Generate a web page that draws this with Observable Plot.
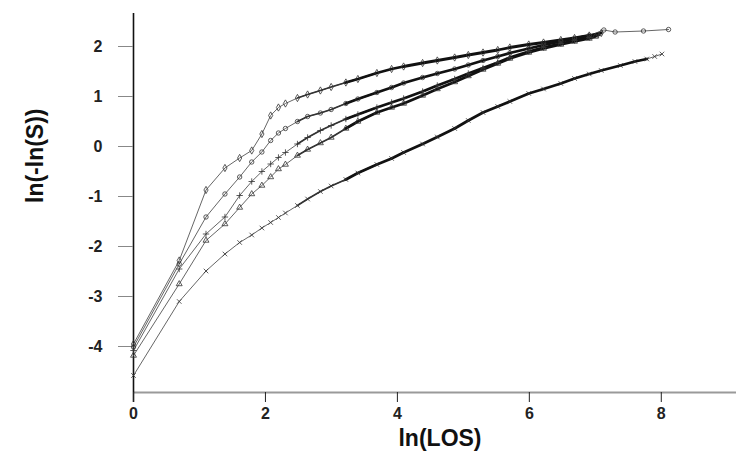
<!DOCTYPE html>
<html><head><meta charset="utf-8">
<script src="https://cdn.jsdelivr.net/npm/d3@7"></script>
<script src="https://cdn.jsdelivr.net/npm/@observablehq/plot@0.6"></script>
<style>body{margin:0;background:#fff} #chart{width:736px;height:464px}</style>
</head><body><div id="chart"></div>
<script>
// ln(LOS) values shared by all five curves
const lnLOS = [0, 0.693, 1.099, 1.386, 1.609, 1.792, 1.946, 2.079, 2.197, 2.303, 2.485, 2.639, 2.833, 2.996, 3.219, 3.401, 3.689, 3.912, 4.094, 4.382, 4.605, 4.868, 5.075, 5.298, 5.521, 5.704, 5.991, 6.215, 6.477, 6.685, 6.908];

const seriesA = [-3.95,-2.28,-0.87,-0.43,-0.23,-0.08,0.25,0.62,0.78,0.86,0.97,1.04,1.12,1.19,1.28,1.35,1.47,1.55,1.60,1.67,1.72,1.78,1.83,1.88,1.93,1.98,2.04,2.08,2.13,2.17,2.22];
const tailAx = [7.09], tailAy = [2.27];

const seriesB = [-4.01,-2.35,-1.41,-0.95,-0.61,-0.31,-0.11,0.12,0.27,0.36,0.50,0.60,0.67,0.74,0.86,0.95,1.08,1.18,1.27,1.38,1.46,1.55,1.63,1.72,1.80,1.87,1.96,2.03,2.10,2.16,2.22];
const tailBx = [7.13,7.30,7.73,8.11], tailBy = [2.33,2.29,2.31,2.34];

const seriesC = [-4.08,-2.45,-1.75,-1.41,-0.98,-0.70,-0.50,-0.35,-0.22,-0.12,0.05,0.18,0.32,0.42,0.55,0.64,0.78,0.88,0.96,1.10,1.22,1.35,1.46,1.57,1.68,1.78,1.90,1.98,2.06,2.12,2.18];
const tailCx = [7.05], tailCy = [2.23];

const seriesD = [-4.18,-2.75,-1.88,-1.55,-1.22,-0.95,-0.78,-0.61,-0.45,-0.36,-0.18,-0.06,0.07,0.18,0.36,0.50,0.68,0.78,0.86,1.02,1.15,1.29,1.41,1.54,1.66,1.76,1.88,1.96,2.04,2.10,2.16];
const tailDx = [7.0], tailDy = [2.20];

const seriesE = [-4.58,-3.10,-2.49,-2.15,-1.92,-1.77,-1.63,-1.52,-1.42,-1.33,-1.18,-1.05,-0.90,-0.79,-0.66,-0.53,-0.36,-0.24,-0.12,0.05,0.19,0.36,0.52,0.68,0.80,0.90,1.06,1.15,1.26,1.36,1.45];
const tailEx = [7.09,7.38,7.60,7.78,7.90,8.01], tailEy = [1.52,1.62,1.70,1.75,1.80,1.85];

const seriesNames = ["A","B","C","D","E"];
const xTicks = [0,2,4,6,8];
const yTicks = [-4,-3,-2,-1,0,1,2];

const rows = [];
function add(name, xs, ys){ xs.forEach((x,i)=>rows.push({series:name, x, y:ys[i]})); }
add("A", lnLOS.concat(tailAx), seriesA.concat(tailAy));
add("B", lnLOS.concat(tailBx), seriesB.concat(tailBy));
add("C", lnLOS.concat(tailCx), seriesC.concat(tailCy));
add("D", lnLOS.concat(tailDx), seriesD.concat(tailDy));
add("E", lnLOS.concat(tailEx), seriesE.concat(tailEy));

const xMin = 0, xMax = 9.14, yMin = -4.92, yMax = 2.66;
const lastDense = {A: 7.1, B: 7.0, C: 7.1, D: 7.1, E: 7.8};

const chart = Plot.plot({
  width: 736, height: 464,
  marginLeft: 133, marginRight: 0, marginTop: 13, marginBottom: 72,
  x: {domain: [xMin, xMax]},
  y: {domain: [yMin, yMax]},
  symbol: {domain: seriesNames, range: ["diamond","circle","plus","triangle","times"]},
  style: {fontFamily: "'Liberation Sans', Arial, sans-serif", fontWeight: "bold", fontSize: "16px", color: "#222", background: "#fff"},
  marks: [
    Plot.ruleY([{y: yMin, x1: xMin, x2: xMax}], {y: "y", x1: "x1", x2: "x2", stroke: "#9a9a9a", strokeWidth: 2.2}),
    Plot.ruleX([{x: 0, y1: -5.12, y2: yMax}], {x: "x", y1: "y1", y2: "y2", stroke: "#111", strokeWidth: 1.6}),
    Plot.axisY({ticks: yTicks, tickSize: 15, tickPadding: 16, label: null, stroke: "#888", tickFormat: d => d}),
    Plot.axisX({ticks: xTicks, tickSize: 10, tickPadding: 5, label: null, stroke: "#222"}),
    Plot.line(rows, {x: "x", y: "y", z: "series", stroke: "#555", strokeWidth: 0.9}),
    Plot.line(rows.filter(d => d.x >= 2.4 && d.x <= 3.7), {x: "x", y: "y", z: "series", stroke: "#333", strokeWidth: 1.7, strokeLinejoin: "round"}),
    Plot.line(rows.filter(d => d.x >= 3.2 && d.x <= lastDense[d.series]), {x: "x", y: "y", z: "series", stroke: "#111", strokeWidth: 2.8, strokeLinejoin: "round"}),
    Plot.dot(rows, {x: "x", y: "y", symbol: "series", r: 2.2, stroke: "#333", strokeWidth: 0.8, fill: "none"}),
    Plot.text(["ln(LOS)"], {frameAnchor: "bottom", dx: 5, dy: 53, fontSize: 23, fontWeight: "bold", fill: "#111"}),
    Plot.text(["ln(-ln(S))"], {frameAnchor: "left", dx: -98, rotate: -90, fontSize: 23, fontWeight: "bold", fill: "#111"})
  ]
});
document.getElementById("chart").appendChild(chart);
</script>
</body></html>
